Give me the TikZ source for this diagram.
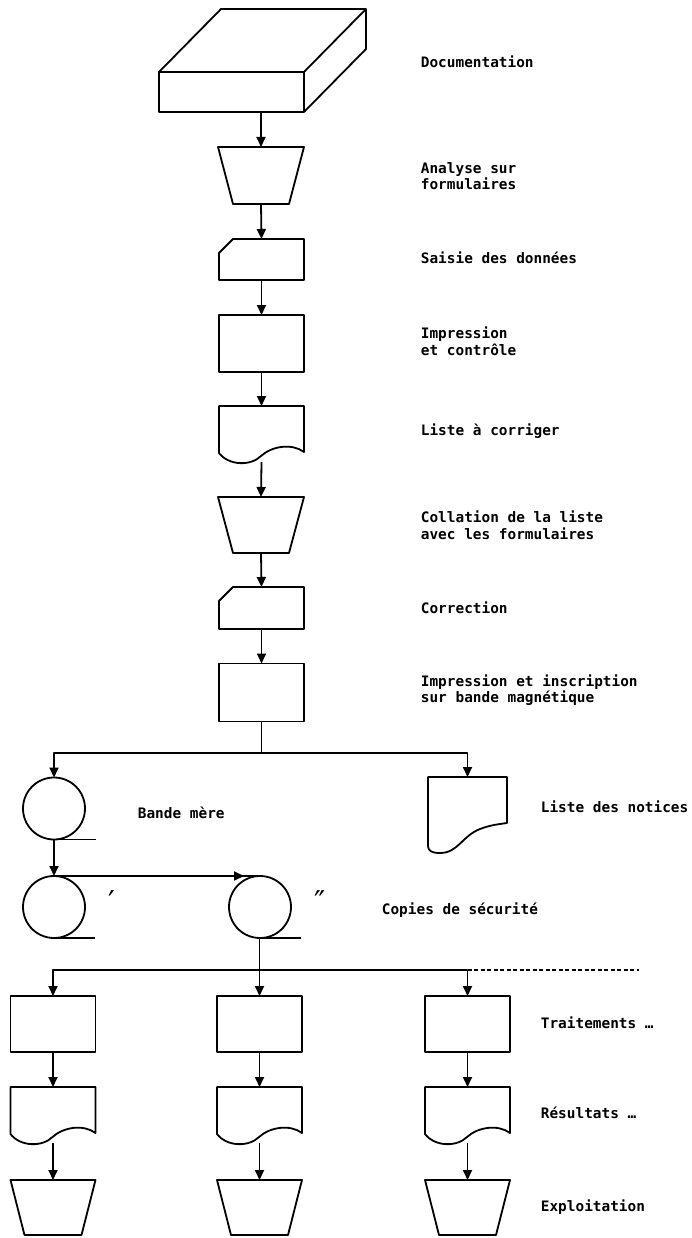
\documentclass[tikz,border=0pt]{standalone}
\usepackage{fontspec}
\newfontfamily\monofont{DejaVu Sans Mono}
\newfontfamily\symfont{DejaVu Sans}
\usetikzlibrary{arrows.meta,calc}
\newcommand\wavedoc[1]{\begin{scope}[shift={(#1.north west)}]
  \draw (0,0) -- (0,47) .. controls (10,60) and (32,60) .. (42,50) .. controls (53,40) and (73,37) .. (85,46) -- (85,0) -- cycle;
\end{scope}}
\newcommand\trapez[2]{\draw (#1.north west) -- (#1.north east) -- ($(#1.south east)+(-#2,0)$) -- ($(#1.south west)+(#2,0)$) -- cycle;}
\newcommand\cardshape[1]{\draw ($(#1.north west)+(14,0)$) -- (#1.north east) -- (#1.south east) -- (#1.south west) -- ($(#1.north west)+(0,14)$) -- cycle;}
\begin{document}
\begin{tikzpicture}[x=1pt,y=-1pt,line width=1.8pt,line join=round,
  shp/.style={inner sep=0pt,outer sep=0pt,minimum width=85pt,minimum height=56pt},
  rectbox/.style={shp,draw},
  tape/.style={circle,draw,inner sep=0pt,outer sep=0pt,minimum size=62pt},
  lbl/.style={anchor=west,font=\monofont\bfseries\fontsize{14.4}{16.5}\selectfont,align=left,inner sep=0pt},
  primemark/.style={font=\symfont\fontsize{30}{30}\selectfont,inner sep=0pt},
  arr/.style={-{Triangle[length=10pt,width=9pt]}}]
\useasboundingbox (0,0) rectangle (691,1238);

% main column
\node[rectbox,minimum width=145pt,minimum height=40pt] (doc) at (231.5,92) {};
\draw (doc.north west) -- ++(62,-63) -- ++(145,0) -- ++(0,40) -- (doc.south east);
\draw (doc.north east) -- ++(62,-63);

\node[shp,minimum width=86pt,minimum height=57pt] (ana) at (261,175.5) {};
\trapez{ana}{15}
\node[shp,minimum height=41pt] (sai) at (261.5,259.5) {};
\cardshape{sai}
\node[rectbox,minimum height=57pt] (imp1) at (261.5,343.5) {};
\node[shp] (lst) at (261.5,434) {};
\wavedoc{lst}
\node[shp,minimum width=86pt,minimum height=56pt] (col) at (261,525) {};
\trapez{col}{15}
\node[shp,minimum height=42pt] (cor) at (261.5,608) {};
\cardshape{cor}
\node[rectbox,minimum height=58pt] (imp2) at (261.5,692.5) {};

\draw[arr] (doc.south -| ana.north) -- (ana.north);
\draw[arr] (ana.south) -- (sai.north);
\draw[arr] (sai.south) -- (imp1.north);
\draw[arr] (imp1.south) -- (lst.north);
\draw[arr] (lst.south) -- (col.north);
\draw[arr] (col.south) -- (cor.north);
\draw[arr] (cor.south) -- (imp2.north);

% branch
\node[tape] (bm) at (54,808.5) {};
\draw (bm.south) -- ++(41.5,0);
\node[shp,minimum width=79pt,minimum height=76pt] (ldn) at (467.5,815) {};
\begin{scope}[shift={(ldn.north west)}]
  \draw (0,0) -- (0,69) .. controls (0,74) and (4,76) .. (12,76) .. controls (30,76) and (34,59) .. (52,52) .. controls (62,48) and (72,47) .. (79,46) -- (79,0) -- cycle;
\end{scope}
\coordinate (br) at (261.5,753);
\draw (imp2.south) -- (br);
\draw[arr] (br) -| (bm.north);
\draw[arr] (br) -| (ldn.north);

% copies
\node[tape] (c1) at (54,907) {};
\draw (c1.south) -- ++(41,0);
\node[tape] (c2) at (260,907) {};
\draw (c2.south) -- ++(41,0);
\draw[arr] (bm.south) -- (c1.north);
\draw (c1.north) -- (c2.north);
\draw[arr] (c1.north) -- ($(c2.north)+(-16,0)$);
\node[primemark] (m1) at (112,902) {′};
\node[primemark] (m2) at (320,902) {″};

% processing columns
\node[rectbox] (t1) at (53,1024) {};
\node[rectbox] (t2) at (259.5,1024) {};
\node[rectbox] (t3) at (467.5,1024) {};
\node[shp] (r1) at (53,1115) {};
\node[shp] (r2) at (259.5,1115) {};
\node[shp] (r3) at (467.5,1115) {};
\wavedoc{r1}\wavedoc{r2}\wavedoc{r3}
\node[shp,minimum width=85pt,minimum height=55pt] (e1) at (53,1207.5) {};
\node[shp,minimum width=85pt,minimum height=55pt] (e2) at (259.5,1207.5) {};
\node[shp,minimum width=85pt,minimum height=55pt] (e3) at (467.5,1207.5) {};
\trapez{e1}{14}\trapez{e2}{14}\trapez{e3}{14}

\coordinate (sp) at (259.5,970);
\coordinate (dend) at (639,970);
\draw[arr] (c2.south -| t2.north) -- (t2.north);
\draw[arr] (sp) -| (t1.north);
\draw[arr] (sp) -| (t3.north);
\draw[dashed,line width=1.2pt,dash pattern=on 4pt off 2.5pt] (t3.north |- sp) -- (dend);
\foreach \i in {1,2,3}{
  \draw[arr] (t\i.south) -- (r\i.north);
  \draw[arr] (r\i.south) -- (e\i.north);
}

% labels
\node[lbl] (l1) at (420,62) {Documentation};
\node[lbl] (l2) at (420,176) {Analyse sur\\formulaires};
\node[lbl] (l3) at (420,258) {Saisie des données};
\node[lbl] (l4) at (420,341) {Impression\\et contrôle};
\node[lbl] (l5) at (420,431) {Liste à corriger};
\node[lbl] (l6) at (420,525) {Collation de la liste\\avec les formulaires};
\node[lbl] (l7) at (420,608) {Correction};
\node[lbl] (l8) at (420,690) {Impression et inscription\\sur bande magnétique};
\node[lbl] (l9) at (137,813) {Bande mère};
\node[lbl] (l10) at (540,807) {Liste des notices};
\node[lbl] (l11) at (381,910) {Copies de sécurité};
\node[lbl] (l12) at (540,1023) {Traitements …};
\node[lbl] (l13) at (540,1113) {Résultats …};
\node[lbl] (l14) at (540,1207) {Exploitation};
\end{tikzpicture}
\end{document}
